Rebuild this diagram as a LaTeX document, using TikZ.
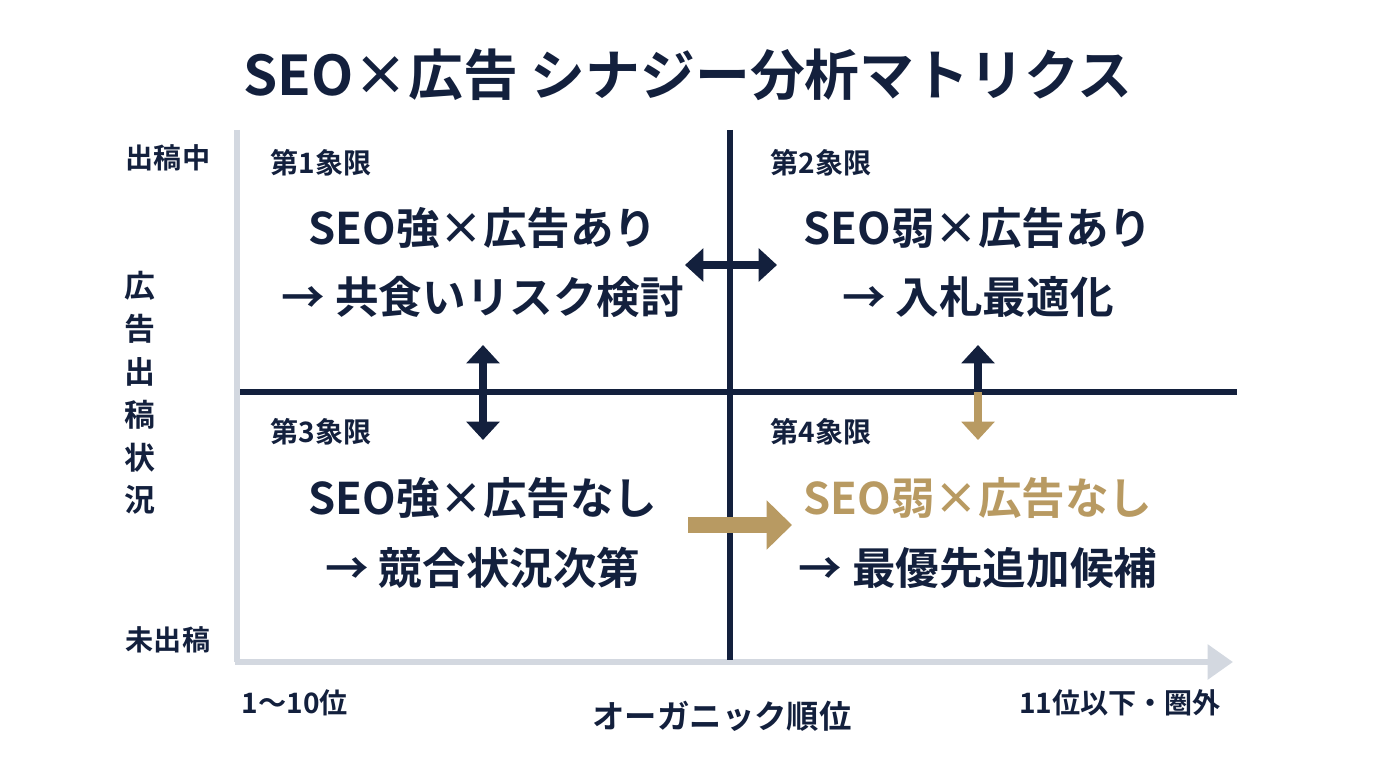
\documentclass[tikz,border=0pt]{standalone}
\usepackage{fontspec}
\setmainfont{Noto Sans CJK JP}[BoldFont={* Bold}]
\usetikzlibrary{arrows.meta, positioning}
\definecolor{navy}{HTML}{13203D}
\definecolor{gold}{HTML}{B89A62}
\definecolor{axisgray}{HTML}{D3D8E0}
\tikzset{
  quadlabel/.style={font=\fontsize{20}{22}\selectfont\bfseries, text=navy},
  maintext/.style={font=\fontsize{31}{34}\selectfont\bfseries, text=navy, align=center},
  sidelabel/.style={font=\fontsize{20}{22}\selectfont\bfseries, text=navy},
  dblarrow/.style={line width=5pt, {Triangle[length=13pt,width=23pt]}-{Triangle[length=13pt,width=23pt]}, navy}
}
\begin{document}
\begin{tikzpicture}[x=0.025cm, y=-0.025cm]
    \useasboundingbox (0,0) rectangle (1376,768);
    % Title
    \node[font=\fontsize{39}{42}\selectfont\bfseries, text=navy] (title) at (688,75) {SEO×広告 シナジー分析マトリクス};

    % Axes
    \draw[axisgray, line width=4.5pt] (237,130) -- (237,662);
    \draw[axisgray, line width=4.5pt, -{Triangle[length=18pt,width=24pt]}] (235,662) -- (1233,662);
    \draw[navy, line width=4pt] (730,130) -- (730,660);
    \draw[navy, line width=4pt] (240,392) -- (1237,392);

    % Axis labels
    \node[sidelabel] (top) at (168,158) {出稿中};
    \node[sidelabel] (bottom) at (168,640) {未出稿};
    \node[sidelabel, align=center, font=\fontsize{22}{30.5}\selectfont\bfseries] (yaxis) at (140,393) {広\\告\\出\\稿\\状\\況};
    \node[sidelabel] (left) at (295,703) {1〜10位};
    \node[sidelabel, font=\fontsize{23}{26}\selectfont\bfseries] (xaxis) at (722,716) {オーガニック順位};
    \node[sidelabel] (right) at (1120,703) {11位以下・圏外};

    % Quadrants
    \node[quadlabel] (q1) at (321,163) {第1象限};
    \node[quadlabel] (q2) at (821,163) {第2象限};
    \node[quadlabel] (q3) at (321,432) {第3象限};
    \node[quadlabel] (q4) at (821,432) {第4象限};

    \node[maintext] (t1a) at (483,228) {SEO強×広告あり};
    \node[maintext] (t1b) at (483,297) {→ 共食いリスク検討};
    \node[maintext] (t2a) at (978,228) {SEO弱×広告あり};
    \node[maintext] (t2b) at (978,297) {→ 入札最適化};
    \node[maintext] (t3a) at (483,498) {SEO強×広告なし};
    \node[maintext] (t3b) at (483,568) {→ 競合状況次第};
    \node[maintext, text=gold] (t4a) at (978,498) {SEO弱×広告なし};
    \node[maintext] (t4b) at (978,568) {→ 最優先追加候補};

    % Arrows
    \coordinate (h1) at (685,265); \coordinate (h2) at (777,265);
    \coordinate (v1) at (483,345); \coordinate (v2) at (483,440);
    \coordinate (w1) at (978,345); \coordinate (wm) at (978,392); \coordinate (w2) at (978,440);
    \coordinate (g1) at (688,525); \coordinate (g2) at (792,525);
    \draw[dblarrow] (h1) -- (h2);
    \draw[dblarrow] (v1) -- (v2);
    \draw[navy, line width=5pt, -{Triangle[length=13pt,width=23pt]}] (wm) -- (w1);
    \draw[gold, line width=5pt, -{Triangle[length=13pt,width=23pt]}] (wm) -- (w2);
    \draw[gold, line width=12pt, -{Triangle[length=18pt,width=34pt]}] (g1) -- (g2);
\end{tikzpicture}
\end{document}
